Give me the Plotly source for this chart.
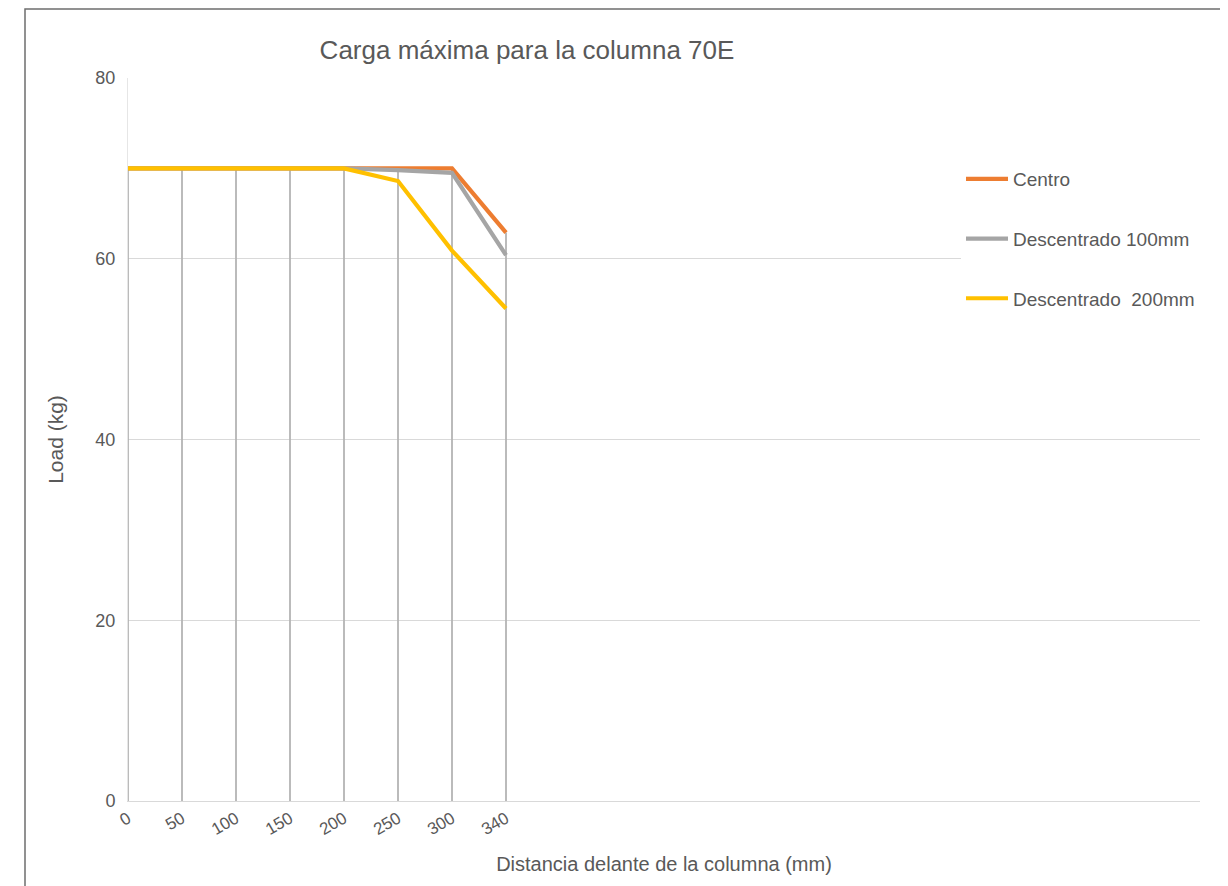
import plotly.graph_objects as go

categories = ["0", "50", "100", "150", "200", "250", "300", "340"]
centro = [70, 70, 70, 70, 70, 70, 70, 62.9]
descentrado_100 = [70, 70, 70, 70, 70, 69.8, 69.5, 60.4]
descentrado_200 = [70, 70, 70, 70, 70, 68.6, 60.9, 54.5]
series_names = ["Centro", "Descentrado 100mm", "Descentrado \u00a0200mm"]
series_colors = ["#ED7D31", "#A5A5A5", "#FFC000"]

idx = list(range(len(categories)))

# drop lines from each category's highest value to the axis
drop_x, drop_y = [], []
for i in idx:
    top = max(centro[i], descentrado_100[i], descentrado_200[i])
    drop_x += [i, i, None]
    drop_y += [0, top, None]

fig = go.Figure()
fig.add_trace(go.Scatter(x=drop_x, y=drop_y, mode="lines",
                         line=dict(color="#B4B4B4", width=1.8),
                         showlegend=False, hoverinfo="skip"))
for name, vals, col in zip(series_names, [centro, descentrado_100, descentrado_200], series_colors):
    fig.add_trace(go.Scatter(x=idx, y=vals, mode="lines", name=name,
                             legendgroup=name,
                             line=dict(color=col, width=4.2)))

# page has an 8px body margin; figure coordinates = page - 8
W, H = 1220, 878
L, T = 120, 70
R = W - 1192
B = H - 793
pw = W - L - R
ph = H - T - B
FONT = "Liberation Sans, Arial, sans-serif"

fig.update_layout(
    width=W, height=H,
    margin=dict(l=L, r=R, t=T, b=B),
    paper_bgcolor="white", plot_bgcolor="white",
    font=dict(family=FONT, color="#595959", size=17),
    title=dict(text="Carga máxima para la columna 70E", x=519 / W, xref="container",
               xanchor="center", y=1 - 42 / H, yref="container", yanchor="middle",
               font=dict(size=26, color="#595959", family=FONT)),
    xaxis=dict(range=[0, (1200 - 128) / 54], tickmode="array", tickvals=idx,
               ticktext=categories, tickangle=-30, showgrid=False,
               showline=True, linecolor="#D9D9D9", linewidth=1.3, zeroline=False,
               tickfont=dict(size=17, color="#595959"),
               title=dict(text="Distancia delante de la columna (mm)",
                          font=dict(size=20, color="#595959"), standoff=18)),
    yaxis=dict(range=[0, 80], tickvals=[0, 20, 40, 60, 80], showgrid=True,
               gridcolor="#D9D9D9", gridwidth=1, showline=True, linecolor="#E6E6E6",
               zeroline=False, tickfont=dict(size=18, color="#595959"), ticklabelstandoff=8,
               title=dict(text="Load (kg)", font=dict(size=21, color="#595959"), standoff=26)),
    legend=dict(x=(953 - L) / pw, xanchor="left", y=(793 - 152) / ph, yanchor="top",
                bgcolor="white", font=dict(size=19, color="#595959"),
                tracegroupgap=32, itemwidth=42),
    showlegend=True,
)

# outer frame of the chart area
fig.add_shape(type="rect", xref="paper", yref="paper",
              x0=(17 - L) / pw, x1=(1240 - L) / pw,
              y0=(793 - 900) / ph, y1=(793 - 1) / ph,
              line=dict(color="#6E6E6E", width=1.5), fillcolor="rgba(0,0,0,0)", layer="below")

fig.write_html("out.html")
